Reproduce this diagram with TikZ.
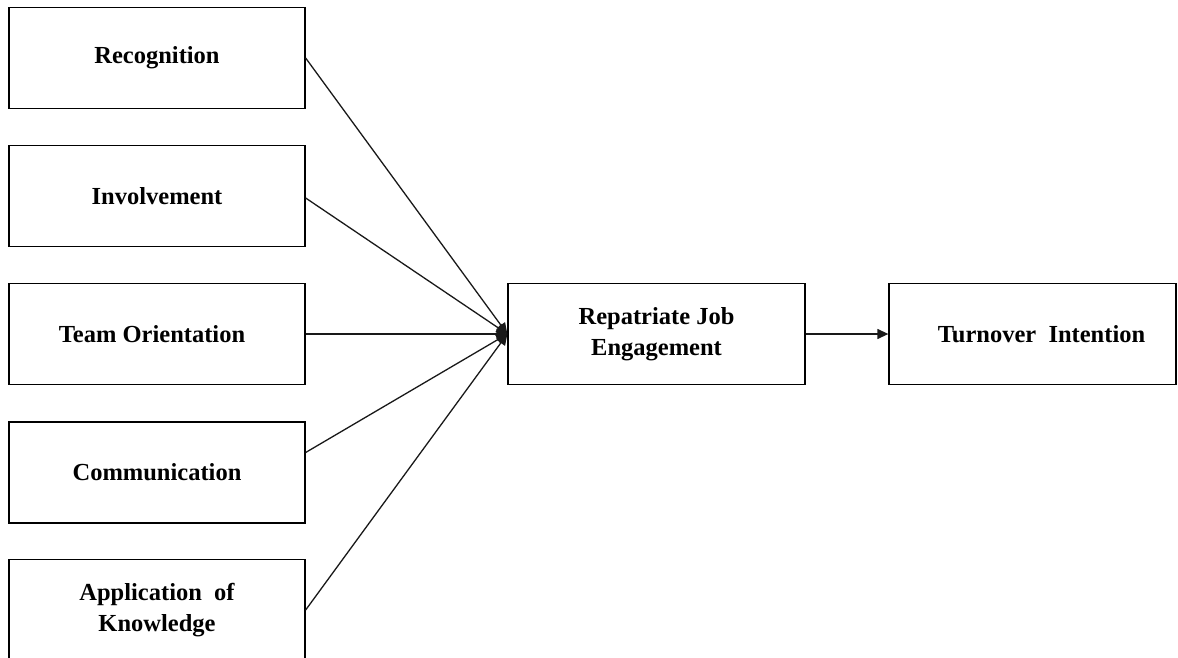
\documentclass[tikz,border=0pt]{standalone}
\usepackage{fontspec}
\setmainfont{Liberation Serif}
\usetikzlibrary{arrows.meta}
\begin{document}
\begin{tikzpicture}[x=1pt,y=-1pt,
  box/.style={draw=black, line width=1.3pt, rectangle, minimum width=296pt, minimum height=101pt, inner sep=0pt, align=center, font=\fontsize{24.5}{31}\selectfont\bfseries, text=black},
  arr/.style={line width=1.3pt, -{Triangle[length=11pt,width=10pt]}, draw=black!90}]
\useasboundingbox (0,0) rectangle (1178,658);
\begin{scope}
\clip (0,0) rectangle (1178,658);
\node[box] (rec) at (157,58) {\raisebox{-3pt}{Recognition}};
\node[box] (inv) at (157,196) {\raisebox{-2pt}{Involvement}};
\node[box] (team) at (157,334) {\hspace*{-10pt}\raisebox{-1pt}{Team Orientation}};
\node[box] (com) at (157,472.5) {\raisebox{-1pt}{Communication}};
\node[box] (app) at (157,610) {\raisebox{-2pt}{Application~~of}\\\raisebox{-2pt}{Knowledge}};
\node[box, minimum width=297pt] (rje) at (656.5,334) {Repatriate Job\\Engagement};
\node[box, minimum width=287pt] (ti) at (1032.5,334) {\hspace*{18pt}Turnover~~Intention};
\end{scope}
\draw[arr] (rec.east) -- (rje.west);
\draw[arr] ([yshift=-2pt]inv.east) -- (rje.west);
\draw[arr] (team.east) -- (rje.west);
\draw[arr] ([yshift=20pt]com.east) -- (rje.west);
\draw[arr] (app.east) -- (rje.west);
\draw[arr] (rje.east) -- (ti.west);
\end{tikzpicture}
\end{document}
